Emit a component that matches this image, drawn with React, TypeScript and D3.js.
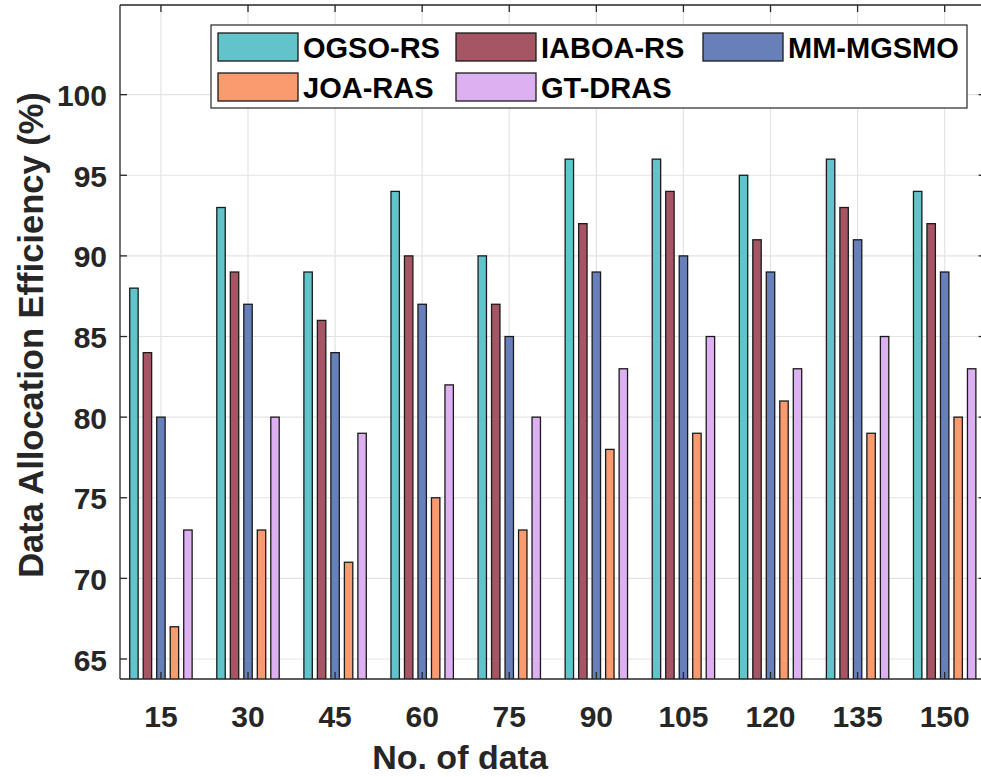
import React from "react";
import * as d3 from "d3";

const categories = [15, 30, 45, 60, 75, 90, 105, 120, 135, 150];
const seriesNames = ["OGSO-RS", "IABOA-RS", "MM-MGSMO", "JOA-RAS", "GT-DRAS"];
const ogsoRS = [88, 93, 89, 94, 90, 96, 96, 95, 96, 94];
const iaboaRS = [84, 89, 86, 90, 87, 92, 94, 91, 93, 92];
const mmMGSMO = [80, 87, 84, 87, 85, 89, 90, 89, 91, 89];
const joaRAS = [67, 73, 71, 75, 73, 78, 79, 81, 79, 80];
const gtDRAS = [73, 80, 79, 82, 80, 83, 85, 83, 85, 83];
const yTicks = [65, 70, 75, 80, 85, 90, 95, 100];
const colors = ["#62C4CB", "#A65565", "#6780B9", "#F99B6F", "#DDB1F1"];

const seriesValues = [ogsoRS, iaboaRS, mmMGSMO, joaRAS, gtDRAS];

const W = 981;
const H = 777;
const left = 120;
const top = 5;
const bottom = 679;
const FONT = "'Liberation Sans', Arial, Helvetica, sans-serif";
const AX = "#262626";

export default function App() {
  const x = d3.scaleLinear().domain([7.95, 157.05]).range([left, 985.6]);
  const y = d3.scaleLinear().domain([63.76, 105.56]).range([bottom, top]);
  const right = x(157.05);
  const step = 2.325; // data units between bars within a group
  const bw = x(1.45) - x(0);
  const tickLen = 7;

  const legendX = 211;
  const legendY = 25;
  const legendW = 756;
  const legendH = 83;
  const colX = [218, 456, 703];
  const rowY = [33, 73];

  return (
    <svg width={W} height={H} style={{ position: "absolute", left: 0, top: 0, background: "#fff" }}>
      <defs>
        <clipPath id="plotClip">
          <rect x={left} y={top} width={right - left} height={bottom - top} />
        </clipPath>
      </defs>
      <rect x={0} y={0} width={W} height={H} fill="#fff" />
      {/* grid */}
      <g stroke="#e3e3e3" strokeWidth={1.2}>
        {categories.map((c) => (
          <line key={"gx" + c} x1={x(c)} x2={x(c)} y1={top} y2={bottom} />
        ))}
        {yTicks.map((t) => (
          <line key={"gy" + t} x1={left} x2={right} y1={y(t)} y2={y(t)} />
        ))}
      </g>
      {/* bars */}
      <g clipPath="url(#plotClip)">
        {seriesValues.map((vals, si) =>
          vals.map((v, ci) => {
            const cx = x(categories[ci] + (si - 2) * step);
            return (
              <rect
                key={si + "-" + ci}
                x={cx - bw / 2}
                y={y(v)}
                width={bw}
                height={bottom + 4 - y(v)}
                fill={colors[si]}
                stroke="#1a1a1a"
                strokeWidth={1.3}
              />
            );
          })
        )}
      </g>
      {/* axes box */}
      <g stroke={AX} strokeWidth={1.3} fill="none">
        <line x1={left} x2={right} y1={bottom} y2={bottom} />
        <line x1={left} x2={right} y1={top} y2={top} />
        <line x1={left} x2={left} y1={top} y2={bottom} />
        <line x1={right} x2={right} y1={top} y2={bottom} />
        {categories.map((c) => (
          <g key={"tx" + c}>
            <line x1={x(c)} x2={x(c)} y1={bottom} y2={bottom - tickLen} />
            <line x1={x(c)} x2={x(c)} y1={top} y2={top + tickLen} />
          </g>
        ))}
        {yTicks.map((t) => (
          <g key={"ty" + t}>
            <line x1={left} x2={left + tickLen} y1={y(t)} y2={y(t)} />
            <line x1={right} x2={right - tickLen} y1={y(t)} y2={y(t)} />
          </g>
        ))}
      </g>
      {/* tick labels */}
      <g fontFamily={FONT} fontWeight="bold" fontSize={30} fill={AX}>
        {categories.map((c) => (
          <text key={"lx" + c} x={x(c)} y={727} textAnchor="middle">
            {c}
          </text>
        ))}
        {yTicks.map((t) => (
          <text key={"ly" + t} x={107} y={y(t) + 1} textAnchor="end" dominantBaseline="central">
            {t}
          </text>
        ))}
      </g>
      {/* axis labels */}
      <text
        x={460}
        y={769}
        textAnchor="middle"
        fontFamily={FONT}
        fontWeight="bold"
        fontSize={34}
        fill={AX}
      >
        No. of data
      </text>
      <text
        transform={`translate(43, 335) rotate(-90)`}
        textAnchor="middle"
        fontFamily={FONT}
        fontWeight="bold"
        fontSize={34.5}
        fill={AX}
      >
        Data Allocation Efficiency (%)
      </text>
      {/* legend */}
      <g>
        <rect x={legendX} y={legendY} width={legendW} height={legendH} fill="#fff" stroke={AX} strokeWidth={1.2} />
        {seriesNames.map((name, i) => {
          const col = i % 3;
          const row = Math.floor(i / 3);
          const sx = colX[col];
          const sy = rowY[row];
          return (
            <g key={name}>
              <rect x={sx} y={sy} width={80} height={28} fill={colors[i]} stroke="#1a1a1a" strokeWidth={1.3} />
              <text
                x={sx + 85}
                y={sy + 15}
                dominantBaseline="central"
                fontFamily={FONT}
                fontWeight="bold"
                fontSize={29}
                fill="#000"
              >
                {name}
              </text>
            </g>
          );
        })}
      </g>
    </svg>
  );
}
